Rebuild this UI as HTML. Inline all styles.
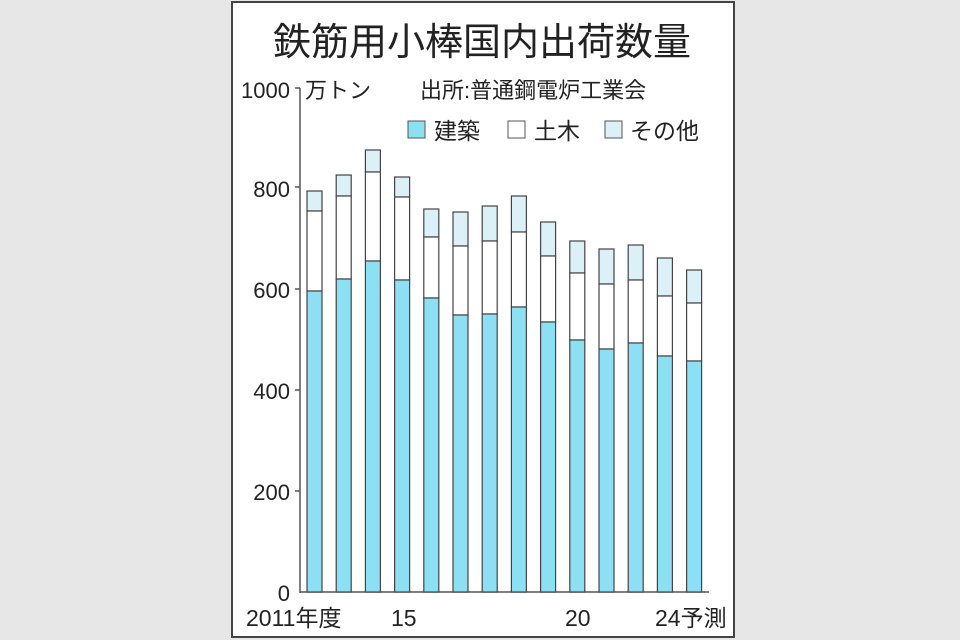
<!DOCTYPE html>
<html><head><meta charset="utf-8"><style>
body{margin:0;background:#e7e7e7;}
svg{display:block}
text{font-family:"Liberation Sans","Noto Sans CJK JP",sans-serif;fill:#222}
</style></head><body>
<svg width="960" height="640" viewBox="0 0 960 640">
<rect x="0" y="0" width="960" height="640" fill="#e7e7e7"/>
<rect x="232" y="2" width="502" height="635" fill="#fff" stroke="#444" stroke-width="2"/>
<text x="482" y="55" font-size="38" text-anchor="middle">鉄筋用小棒国内出荷数量</text>
<text x="290" y="98" font-size="22" text-anchor="end">1000</text>
<text x="305" y="98" font-size="22">万トン</text>
<text x="420" y="98" font-size="22">出所:普通鋼電炉工業会</text>
<rect x="408" y="121" width="17" height="17" fill="#8de0f4" stroke="#555"/>
<text x="434" y="139" font-size="23">建築</text>
<rect x="508" y="121" width="17" height="17" fill="#fff" stroke="#555"/>
<text x="534" y="139" font-size="23">土木</text>
<rect x="605" y="121" width="17" height="17" fill="#dcf0f8" stroke="#555"/>
<text x="630" y="139" font-size="23">その他</text>
<g font-size="22" text-anchor="end">
<text x="290" y="197">800</text><text x="290" y="298">600</text><text x="290" y="399">400</text><text x="290" y="500">200</text><text x="290" y="601">0</text>
</g>
<g stroke="#555" stroke-width="1.5">
<line x1="300" y1="88" x2="300" y2="593"/>
<line x1="300" y1="592" x2="709" y2="592"/>
<line x1="295" y1="88" x2="300" y2="88"/><line x1="295" y1="187" x2="300" y2="187"/><line x1="295" y1="289" x2="300" y2="289"/><line x1="295" y1="390" x2="300" y2="390"/><line x1="295" y1="491" x2="300" y2="491"/>
</g>
<g id="bars" stroke="#444" stroke-width="1.2"></g>
<g font-size="23">
<text x="246" y="626">2011年度</text>
<text x="391" y="626">15</text>
<text x="565" y="626">20</text>
<text x="655" y="626">24予測</text>
</g>
</svg>
<script>
var d=[[291,211,191],[279,196,175],[261,172,150],[280,197,177],[298,237,209],[315,246,212],[314,241,206],[307,232,196],[322,256,222],[340,273,241],[349,284,249],[343,280,245],[356,296,258],[361,303,270]];
var g=document.getElementById('bars'),s='';
d.forEach(function(b,i){var x=307+i*29.2,w=15;
s+='<rect x="'+x+'" y="'+b[2]+'" width="'+w+'" height="'+(b[1]-b[2])+'" fill="#dcf0f8"/>';
s+='<rect x="'+x+'" y="'+b[1]+'" width="'+w+'" height="'+(b[0]-b[1])+'" fill="#fff"/>';
s+='<rect x="'+x+'" y="'+b[0]+'" width="'+w+'" height="'+(592-b[0])+'" fill="#8de0f4"/>';});
g.innerHTML=s;
</script>
</body></html>
